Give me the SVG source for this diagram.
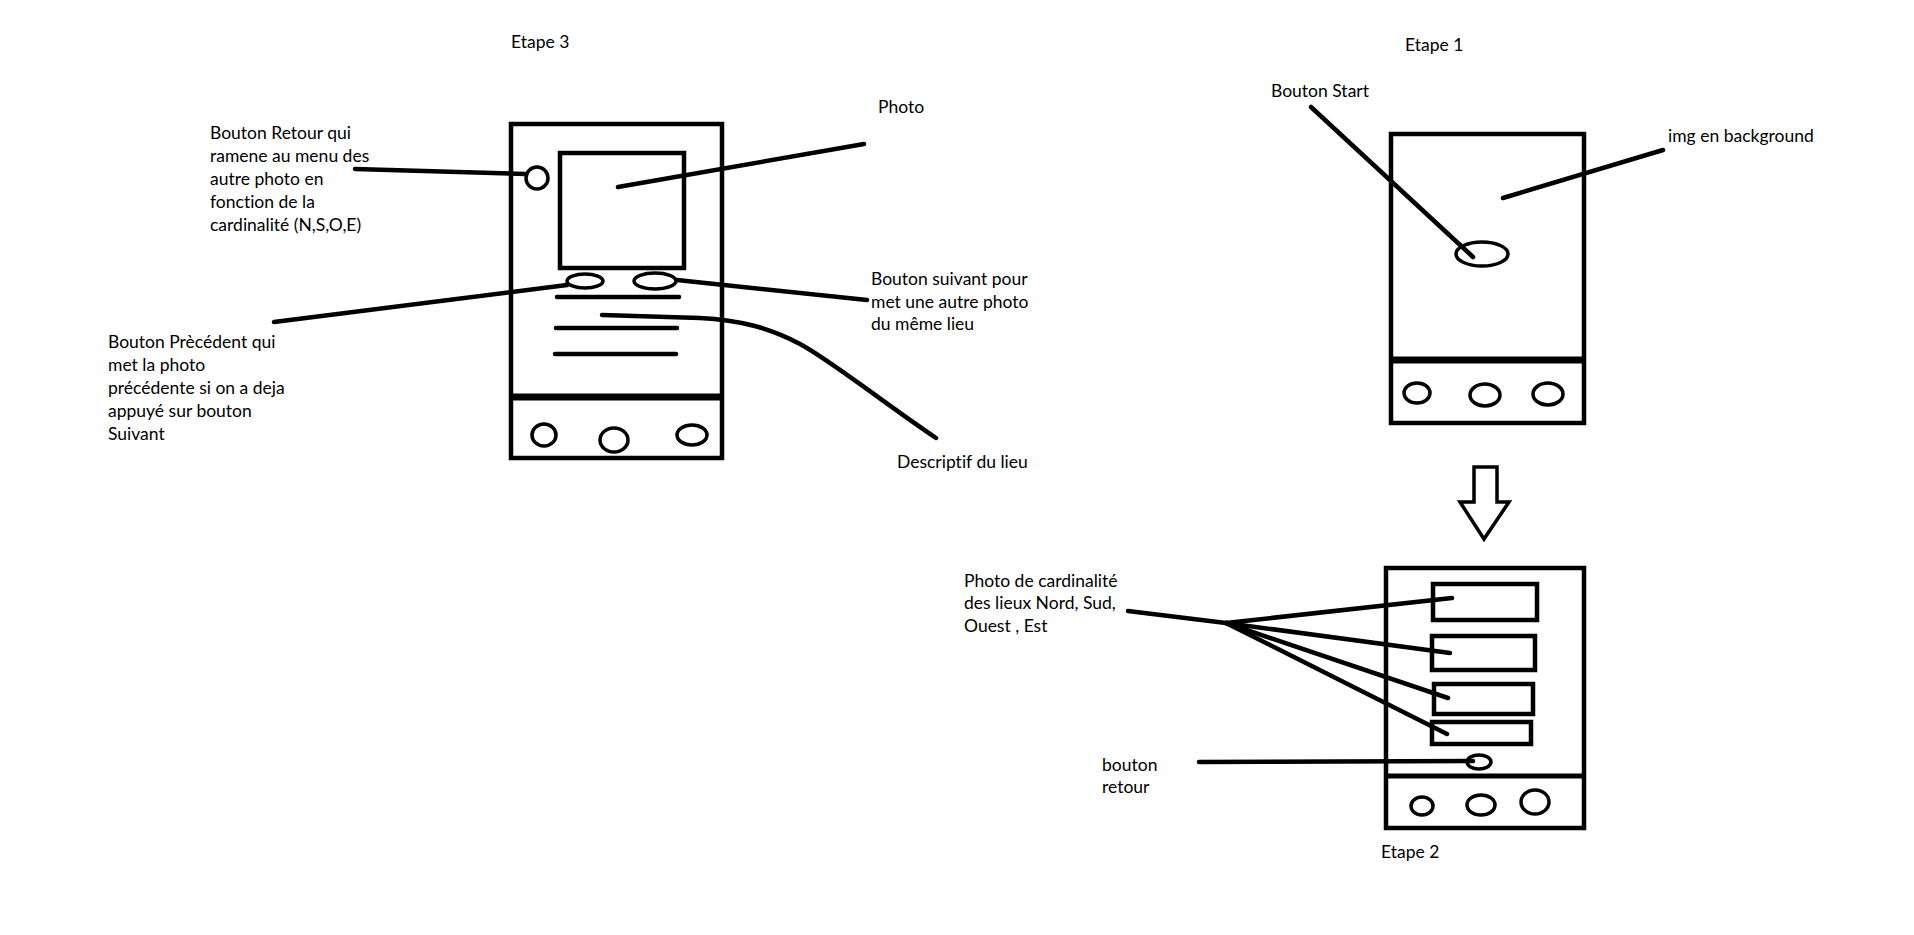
<svg xmlns="http://www.w3.org/2000/svg" width="1914" height="935" viewBox="0 0 1914 935">
<style>
.t{font-family:Lato,"Open Sans","Liberation Sans",sans-serif;font-size:17.5px;fill:#000;font-variant-ligatures:none}
.s{fill:none;stroke:#000;stroke-width:4.5}
.e{fill:none;stroke:#000;stroke-width:3.5}
.c{fill:none;stroke:#000;stroke-width:4.5;stroke-linecap:round}
</style>
<rect width="1914" height="935" fill="#fff"/>
<g id="etape3">
<text class="t" x="511" y="48">Etape 3</text>
<rect class="s" x="511" y="124" width="211" height="334"/>
<line x1="511" y1="397" x2="722" y2="397" stroke="#000" stroke-width="7"/>
<rect class="s" x="560" y="153" width="124" height="115"/>
<circle class="e" cx="537" cy="178" r="11"/>
<ellipse class="e" cx="585" cy="281" rx="18" ry="7"/>
<ellipse class="e" cx="655" cy="281" rx="21" ry="8"/>
<line class="c" x1="557" y1="297" x2="679" y2="297"/>
<line class="c" x1="556" y1="328" x2="677" y2="328"/>
<line class="c" x1="555" y1="354" x2="676" y2="354"/>
<ellipse class="e" cx="544" cy="435" rx="12" ry="11"/>
<ellipse class="e" cx="614" cy="440" rx="14" ry="12"/>
<ellipse class="e" cx="692" cy="435" rx="15" ry="10"/>
</g>
<g id="label-retour">
<text class="t" x="210" y="139">Bouton Retour qui</text>
<text class="t" x="210" y="162">ramene au menu des</text>
<text class="t" x="210" y="185">autre photo en</text>
<text class="t" x="210" y="208">fonction de la</text>
<text class="t" x="210" y="231">cardinalité (N,S,O,E)</text>
</g>
<g id="label-precedent">
<text class="t" x="108" y="348">Bouton Prècédent qui</text>
<text class="t" x="108" y="371">met la photo</text>
<text class="t" x="108" y="394">précédente si on a deja</text>
<text class="t" x="108" y="417">appuyé sur bouton</text>
<text class="t" x="108" y="440">Suivant</text>
</g>
<g id="label-photo"><text class="t" x="878" y="113">Photo</text></g>
<g id="label-suivant">
<text class="t" x="871" y="285">Bouton suivant pour</text>
<text class="t" x="871" y="308">met une autre photo</text>
<text class="t" x="871" y="330">du même lieu</text>
</g>
<g id="label-descriptif"><text class="t" x="897" y="468">Descriptif du lieu</text></g>
<g id="etape1">
<text class="t" x="1405" y="51">Etape 1</text>
<rect class="s" x="1391" y="134" width="193" height="289"/>
<line x1="1391" y1="360" x2="1584" y2="360" stroke="#000" stroke-width="7"/>
<ellipse class="e" cx="1482" cy="254" rx="26" ry="12"/>
<ellipse class="e" cx="1417" cy="393" rx="13" ry="10"/>
<ellipse class="e" cx="1485" cy="395" rx="15" ry="11"/>
<ellipse class="e" cx="1548" cy="394" rx="15" ry="11"/>
</g>
<g id="label-start"><text class="t" x="1271" y="97">Bouton Start</text></g>
<g id="label-img"><text class="t" x="1668" y="142">img en background</text></g>
<g id="arrow">
<path class="e" stroke-width="4" d="M1474,467 L1497,467 L1497,502 L1509,502 L1484,539 L1460,502 L1474,502 Z"/>
</g>
<g id="etape2">
<rect class="s" x="1386" y="568" width="198" height="260"/>
<line x1="1386" y1="776" x2="1584" y2="776" stroke="#000" stroke-width="5"/>
<rect class="s" x="1433" y="584" width="104" height="36"/>
<rect class="s" x="1432" y="636" width="103" height="34"/>
<rect class="s" x="1434" y="684" width="99" height="30"/>
<rect class="s" x="1432" y="722" width="99" height="22"/>
<ellipse class="e" cx="1479" cy="762" rx="12" ry="7"/>
<ellipse class="e" cx="1422" cy="806" rx="11" ry="9"/>
<ellipse class="e" cx="1481" cy="805" rx="14" ry="10"/>
<ellipse class="e" cx="1535" cy="802" rx="14" ry="12"/>
<text class="t" x="1381" y="858">Etape 2</text>
</g>
<g id="label-cardinalite">
<text class="t" x="964" y="587">Photo de cardinalité</text>
<text class="t" x="964" y="609">des lieux Nord, Sud,</text>
<text class="t" x="964" y="632">Ouest , Est</text>
</g>
<g id="label-bouton-retour">
<text class="t" x="1102" y="771">bouton</text>
<text class="t" x="1102" y="793">retour</text>
</g>
<g id="connectors">
<line class="c" x1="355" y1="169" x2="526" y2="174"/>
<line class="c" x1="274" y1="322" x2="567" y2="285"/>
<line class="c" x1="618" y1="187" x2="864" y2="144"/>
<line class="c" x1="677" y1="280" x2="867" y2="300"/>
<path class="c" d="M602,315 L700,318 C740,320 770,328 800,344 C830,360 880,400 936,438"/>
<line class="c" x1="1311" y1="107" x2="1473" y2="257"/>
<line class="c" x1="1503" y1="198" x2="1663" y2="150"/>
<line class="c" x1="1128" y1="611" x2="1226" y2="623"/>
<line class="c" x1="1226" y1="623" x2="1452" y2="598"/>
<line class="c" x1="1226" y1="623" x2="1450" y2="653"/>
<line class="c" x1="1226" y1="623" x2="1448" y2="698"/>
<line class="c" x1="1226" y1="623" x2="1447" y2="734"/>
<line class="c" x1="1199" y1="762" x2="1473" y2="761"/>
</g>
</svg>
